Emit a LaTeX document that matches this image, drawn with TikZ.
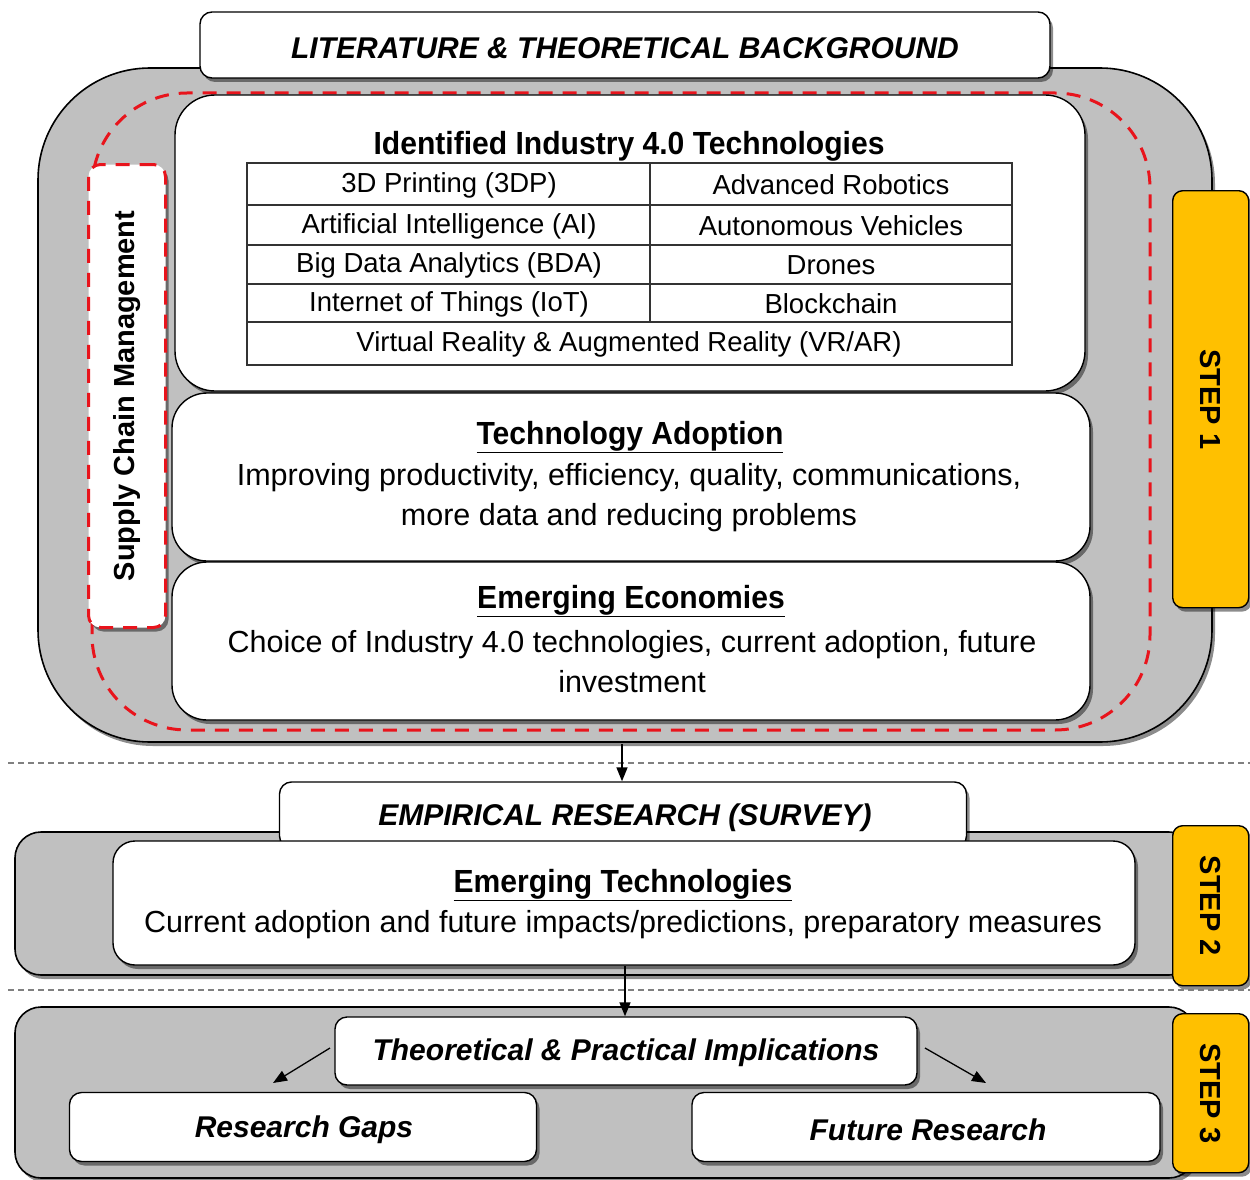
\documentclass[tikz,border=0pt]{standalone}
\usepackage{fontspec}
\setmainfont{Liberation Sans}
\newfontfamily\hdfont[FakeStretch=0.94]{Liberation Sans}
\usetikzlibrary{shadows,arrows.meta}
\definecolor{boxgray}{HTML}{C0C0C0}
\definecolor{stepyel}{HTML}{FFC000}
\definecolor{dashred}{HTML}{E8141C}
\begin{document}
\begin{tikzpicture}[x=1pt,y=-1pt,
  shad/.style={drop shadow={shadow xshift=3pt,shadow yshift=-4pt,fill=black,opacity=0.45}},
  graybox/.style={draw=black,line width=1.6pt,fill=boxgray,shad},
  whitebox/.style={draw=black,line width=1.4pt,fill=white,rounded corners=14pt,shad},
  stepbox/.style={draw=black,line width=1.4pt,fill=stepyel,rounded corners=10pt,shad},
  reddash/.style={draw=dashred,line width=3pt,dash pattern=on 14pt off 10pt},
  sepline/.style={draw=gray,line width=1.2pt,dash pattern=on 6pt off 4pt},
  arr/.style={-{Triangle[length=14pt,width=11pt]},line width=1.6pt},
  titletxt/.style={font=\fontsize{30}{34}\selectfont\bfseries\itshape},
  headtxt/.style={font=\hdfont\fontsize{32}{36}\selectfont\bfseries},
  bodytxt/.style={font=\fontsize{30.5}{40}\selectfont,align=center},
  celltxt/.style={font=\fontsize{27.5}{30}\selectfont},
  steptxt/.style={font=\fontsize{29}{30}\selectfont\bfseries}
]
\useasboundingbox (0,0) rectangle (1250,1180);
% ---------------- STEP 1 ----------------
\path[graybox,rounded corners=112pt] (38,68) rectangle (1212,742);
\path[reddash,rounded corners=95pt] (92,93) rectangle (1150,730);
\node[stepbox,minimum width=76pt,minimum height=417pt,anchor=north west] (s1) at (1172,190) {};
\node[steptxt,rotate=-90] (s1t) at (s1.center) {STEP 1};
\node[draw=black,line width=1.4pt,fill=white,rounded corners=12pt,shad,minimum width=850pt,minimum height=66pt] (lit) at (625,45) {};
\node[titletxt] (litt) at (625,48) {LITERATURE \& THEORETICAL BACKGROUND};
% inner white boxes
\node[whitebox,rounded corners=40pt,minimum width=910pt,minimum height=296pt] (ind) at (630,243) {};
\node[whitebox,rounded corners=35pt,minimum width=918pt,minimum height=168pt] (tad) at (631,477) {};
\node[whitebox,rounded corners=35pt,minimum width=918pt,minimum height=158pt] (eme) at (631,641) {};
% supply chain box
\node[reddash,fill=white,rounded corners=12pt,minimum width=77pt,minimum height=463pt,shad] (scm) at (127,396) {};
\node[font=\fontsize{29}{32}\selectfont\bfseries,rotate=90] (scmt) at (scm.center) {Supply Chain Management};
% Industry 4.0 title
\node[headtxt] (indt) at (629,147) {\underline{Identified Industry 4.0 Technologies}};
% table
\draw[line width=1.4pt,draw=black!80] (247,163) rectangle (1012,365);
\foreach \yy in {205,245,284,322} \draw[line width=1.4pt,draw=black!80] (247,\yy) -- (1012,\yy);
\draw[line width=1.4pt,draw=black!80] (650,163) -- (650,322);
\node[celltxt] (c11) at (449,185) {3D Printing (3DP)};
\node[celltxt] (c12) at (831,185) {Advanced Robotics};
\node[celltxt] (c21) at (449,226) {Artificial Intelligence (AI)};
\node[celltxt] (c22) at (831,226) {Autonomous Vehicles};
\node[celltxt] (c31) at (449,265) {Big Data Analytics (BDA)};
\node[celltxt] (c32) at (831,265) {Drones};
\node[celltxt] (c41) at (449,304) {Internet of Things (IoT)};
\node[celltxt] (c42) at (831,304) {Blockchain};
\node[celltxt] (c5) at (629,344) {Virtual Reality \& Augmented Reality (VR/AR)};
% Technology adoption text
\node[headtxt] (tadt) at (630,437) {\underline{Technology Adoption}};
\node[bodytxt] (tadb) at (629,498) {Improving productivity, efficiency, quality, communications,\\more data and reducing problems};
% Emerging economies text
\node[headtxt] (emet) at (631,601) {\underline{Emerging Economies}};
\node[bodytxt] (emeb) at (632,662) {Choice of Industry 4.0 technologies, current adoption, future\\investment};
% separator 1
\draw[sepline] (8,763) -- (1250,763);
\coordinate (a1s) at (622,744);
% ---------------- STEP 2 ----------------
\path[graybox,rounded corners=26pt] (15,832) rectangle (1195,975);
\node[stepbox,minimum width=76pt,minimum height=160pt,anchor=north west] (s2) at (1172,825) {};
\node[steptxt,rotate=-90] (s2t) at (s2.center) {STEP 2};
\node[draw=black,line width=1.4pt,fill=white,rounded corners=12pt,shad,minimum width=687pt,minimum height=66pt] (emp) at (623,815) {};
\node[titletxt] (empt) at (625,818) {EMPIRICAL RESEARCH (SURVEY)};
\node[whitebox,rounded corners=22pt,minimum width=1022pt,minimum height=124pt] (emt) at (624,903) {};
\node[headtxt] (emtt) at (623,885) {\underline{Emerging Technologies}};
\node[bodytxt] (emtb) at (623,925) {Current adoption and future impacts/predictions, preparatory measures};
\draw[arr] (a1s) -- (emp.north -| a1s);
% separator 2
\draw[sepline] (8,990) -- (1250,990);
% ---------------- STEP 3 ----------------
\path[graybox,rounded corners=26pt] (15,1007) rectangle (1195,1178);
\node[stepbox,minimum width=76pt,minimum height=159pt,anchor=north west] (s3) at (1172,1013) {};
\node[steptxt,rotate=-90] (s3t) at (s3.center) {STEP 3};
\node[whitebox,rounded corners=12pt,minimum width=582pt,minimum height=68pt] (imp) at (626,1051) {};
\node[titletxt] (impt) at (626,1053) {Theoretical \& Practical Implications};
\node[whitebox,rounded corners=12pt,minimum width=467pt,minimum height=69pt] (gap) at (303,1127) {};
\node[titletxt] (gapt) at (304,1130) {Research Gaps};
\node[whitebox,rounded corners=12pt,minimum width=468pt,minimum height=69pt] (fut) at (926,1127) {};
\node[titletxt] (futt) at (928,1130) {Future Research};
\coordinate (a2s) at (625,966);
\draw[arr] (a2s) -- (imp.north -| a2s);
\coordinate (g1) at (330,1048);
\coordinate (g2) at (273,1083);
\coordinate (f1) at (925,1048);
\coordinate (f2) at (986,1083);
\draw[arr,line width=1.3pt] (g1) -- (g2);
\draw[arr,line width=1.3pt] (f1) -- (f2);
\end{tikzpicture}
\end{document}
